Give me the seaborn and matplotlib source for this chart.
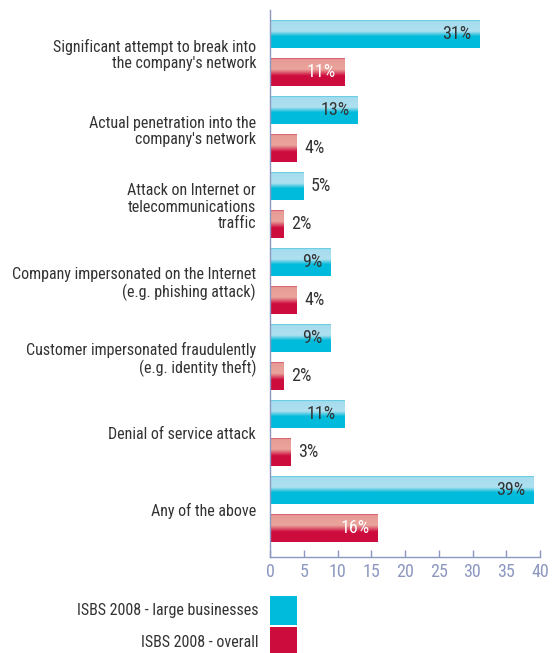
import numpy as np
import pandas as pd
import seaborn as sns
import matplotlib.pyplot as plt
from matplotlib import font_manager
from matplotlib.colors import LinearSegmentedColormap
from matplotlib.patches import Patch

CATEGORIES = [
    "Significant attempt to break into\nthe company's network",
    "Actual penetration into the\ncompany's network",
    "Attack on Internet or\ntelecommunications\ntraffic",
    "Company impersonated on the Internet\n(e.g. phishing attack)",
    "Customer impersonated fraudulently\n(e.g. identity theft)",
    "Denial of service attack",
    "Any of the above",
]
LARGE = [31, 13, 5, 9, 9, 11, 39]
OVERALL = [11, 4, 2, 4, 2, 3, 16]
SERIES = ["ISBS 2008 - large businesses", "ISBS 2008 - overall"]
XTICKS = [0, 5, 10, 15, 20, 25, 30, 35, 40]

BLUE = "#00bbdb"
RED = "#cd0c3e"
AXIS_COL = "#8d98c0"
TEXT_COL = "#333333"

sns.set_theme(style="white")

# prefer a narrow font if one is around, otherwise Liberation Sans
installed = {f.name for f in font_manager.fontManager.ttflist}
family = "Liberation Sans"
for cand in ["Roboto Condensed", "Liberation Sans Narrow", "DejaVu Sans Condensed"]:
    if cand in installed:
        family = cand
        break
plt.rcParams['font.family'] = [family, 'DejaVu Sans']
narrow = family != "Liberation Sans"
LABEL_FS = 11.5 if narrow else 10
VAL_FS = 13 if narrow else 11

df = pd.DataFrame({
    "category": CATEGORIES * 2,
    "value": LARGE + OVERALL,
    "series": [SERIES[0]] * len(CATEGORIES) + [SERIES[1]] * len(CATEGORIES),
})

fig = plt.figure(figsize=(5.52, 6.53), dpi=100)
ax = fig.add_axes([270 / 552, 1 - 557 / 653, 270 / 552, 547 / 653])

sns.barplot(data=df, y="category", x="value", hue="series", orient="h",
            palette=[BLUE, RED], width=1.0, gap=0.26, ax=ax, legend=False,
            linewidth=0, errorbar=None)

# gradient colour maps for the glossy bars
blue_cmap = LinearSegmentedColormap.from_list("b", [
    (0.0, "#12b6d6"), (0.07, "#a6dcee"), (0.42, "#aee0f0"),
    (0.6, "#00bbdb"), (1.0, "#00bbdb")])
red_cmap = LinearSegmentedColormap.from_list("r", [
    (0.0, "#c8103e"), (0.07, "#e79c96"), (0.42, "#eaa49c"),
    (0.65, "#cd0c3e"), (1.0, "#cd0c3e")])
grad = np.linspace(0, 1, 64).reshape(-1, 1)

n = len(CATEGORIES)
for i, p in enumerate(ax.patches[:2 * n]):
    cmap = blue_cmap if i < n else red_cmap
    x0, y0 = p.get_x(), p.get_y()
    w, h = p.get_width(), p.get_height()
    im = ax.imshow(grad, cmap=cmap, aspect="auto", interpolation="bilinear",
                   extent=[x0, x0 + w, y0 + h, y0], zorder=p.get_zorder() + 0.1)
    im.set_clip_path(p)
    val = (LARGE + OVERALL)[i]
    yc = y0 + h / 2
    if val >= 9:
        col = TEXT_COL if i < n else "white"
        ax.text(x0 + w - 1.2, yc, f"{val}%", ha="right", va="center",
                fontsize=VAL_FS, color=col, zorder=5)
    else:
        ax.text(x0 + w + 1.1, yc, f"{val}%", ha="left", va="center",
                fontsize=VAL_FS, color=TEXT_COL, zorder=5)

ax.set_xlim(0, 40)
ax.set_ylim(6.63, -0.566)
ax.set_xticks(XTICKS)
ax.set_xlabel("")
ax.set_ylabel("")
ax.tick_params(axis="x", direction="in", length=5, width=1, color=AXIS_COL,
               labelcolor=AXIS_COL, labelsize=VAL_FS, pad=4, bottom=True)
ax.tick_params(axis="y", length=0, labelcolor=TEXT_COL, labelsize=LABEL_FS, pad=10)
for lbl in ax.get_yticklabels():
    lbl.set_multialignment("right")
    lbl.set_linespacing(1.12)
sns.despine(ax=ax)
for s in ["left", "bottom"]:
    ax.spines[s].set_color(AXIS_COL)
    ax.spines[s].set_linewidth(1)

handles = [Patch(facecolor=BLUE, edgecolor="none"),
           Patch(facecolor=RED, edgecolor="none")]
fig.legend(handles, SERIES, loc="upper right", bbox_to_anchor=(297 / 552, 1 - 596 / 653),
           frameon=False, markerfirst=False, fontsize=LABEL_FS, handlelength=1.68,
           handleheight=2.4, labelspacing=0.15, handletextpad=0.75, borderpad=0,
           borderaxespad=0, labelcolor=TEXT_COL)

fig.savefig("out.png", dpi=100)
